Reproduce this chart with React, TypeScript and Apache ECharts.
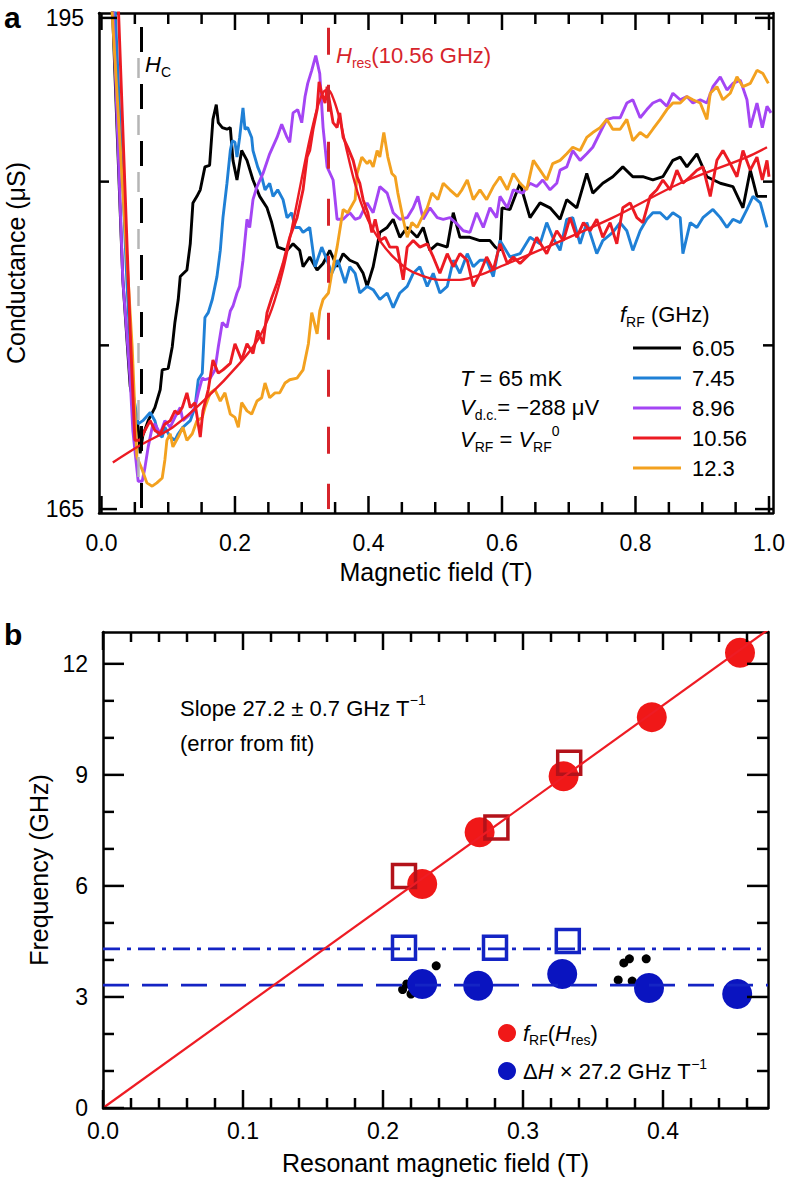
import React, { useEffect, useRef } from "react";
import * as echarts from "echarts";

const FONT = '"Liberation Sans", Arial, Helvetica, sans-serif';

// ---------------- Panel a data ----------------
const freqLabels = ["6.05", "7.45", "8.96", "10.56", "12.3"];
const freqColors = ["#000000", "#1f80d6", "#a445f4", "#ec1b23", "#f3a11f"];

const g605 = [
  [0.016, 196.0], [0.032, 179.0], [0.043, 172.5], [0.055, 170.0], [0.058, 168.4], [0.062, 169.5], [0.07, 170.4], [0.08, 171.2], [0.088, 172.3], [0.091, 173.5],
  [0.1, 173.6], [0.106, 174.9], [0.11, 176.4], [0.115, 177.8], [0.118, 179.2], [0.128, 179.6], [0.133, 181.2], [0.137, 183.7], [0.143, 184.1], [0.148, 184.5],
  [0.155, 185.9], [0.162, 186.0], [0.167, 188.8], [0.172, 189.7], [0.175, 188.6], [0.181, 188.3], [0.188, 188.2], [0.193, 188.3], [0.197, 186.3], [0.203, 185.1],
  [0.21, 186.9], [0.218, 186.3], [0.227, 185.1], [0.237, 184.1], [0.248, 183.4], [0.255, 182.5], [0.264, 181.0], [0.278, 180.8], [0.287, 181.2], [0.297, 180.8],
  [0.302, 179.8], [0.312, 180.4], [0.323, 179.6], [0.332, 180.0], [0.342, 180.8], [0.353, 179.8], [0.362, 180.6], [0.372, 180.2], [0.383, 180.0], [0.392, 179.4],
  [0.398, 178.6], [0.407, 179.8], [0.417, 181.9], [0.428, 182.2], [0.437, 182.7], [0.447, 181.6], [0.458, 182.2], [0.473, 181.6], [0.482, 182.2], [0.492, 180.8],
  [0.503, 181.2], [0.518, 181.0], [0.527, 183.1], [0.537, 181.6], [0.552, 181.6], [0.567, 181.4], [0.582, 181.4], [0.59, 181.0], [0.597, 180.8], [0.6, 183.4],
  [0.612, 183.3], [0.627, 184.9], [0.642, 182.8], [0.657, 183.7], [0.672, 183.4], [0.687, 182.7], [0.697, 183.9], [0.712, 183.4], [0.727, 185.5], [0.736, 184.3],
  [0.751, 184.9], [0.766, 185.3], [0.781, 185.9], [0.796, 185.3], [0.811, 185.3], [0.826, 185.1], [0.841, 185.3], [0.856, 186.3], [0.867, 186.5], [0.877, 185.9],
  [0.892, 186.7], [0.907, 185.3], [0.927, 184.9], [0.946, 184.7], [0.961, 183.4], [0.972, 185.7], [0.982, 184.1], [0.997, 184.1],
];

const g745 = [
  [0.02, 196.0], [0.038, 179.0], [0.046, 172.4], [0.055, 170.2], [0.062, 170.4], [0.073, 170.9], [0.08, 170.4], [0.085, 169.6], [0.091, 169.4], [0.095, 170.0],
  [0.103, 169.4], [0.11, 169.2], [0.115, 169.6], [0.122, 170.0], [0.133, 170.4], [0.14, 171.2], [0.145, 172.9], [0.151, 173.3], [0.155, 176.7], [0.16, 177.0],
  [0.166, 177.8], [0.173, 179.2], [0.178, 180.8], [0.182, 182.8], [0.188, 184.9], [0.193, 186.9], [0.196, 187.5], [0.2, 187.4], [0.203, 186.5], [0.207, 187.7],
  [0.212, 189.5], [0.215, 188.2], [0.219, 188.3], [0.225, 187.7], [0.227, 186.9], [0.234, 185.9], [0.24, 185.3], [0.245, 184.5], [0.252, 184.9], [0.257, 184.1],
  [0.264, 184.5], [0.272, 183.9], [0.278, 182.8], [0.285, 183.1], [0.29, 182.2], [0.297, 182.2], [0.302, 181.9], [0.312, 182.2], [0.32, 179.8], [0.33, 181.0],
  [0.338, 180.2], [0.345, 179.4], [0.354, 180.2], [0.365, 178.8], [0.372, 179.8], [0.38, 179.4], [0.387, 178.2], [0.398, 178.6], [0.407, 178.4], [0.417, 177.8],
  [0.428, 178.2], [0.437, 177.3], [0.447, 178.2], [0.458, 178.6], [0.467, 179.4], [0.477, 179.8], [0.488, 178.6], [0.497, 179.4], [0.507, 178.2], [0.518, 178.6],
  [0.527, 180.2], [0.537, 179.4], [0.548, 180.6], [0.557, 179.8], [0.567, 180.2], [0.577, 180.2], [0.587, 179.2], [0.597, 181.4], [0.612, 180.4], [0.627, 180.6],
  [0.642, 181.6], [0.657, 181.2], [0.667, 182.5], [0.676, 181.6], [0.687, 180.8], [0.697, 182.7], [0.706, 182.8], [0.717, 181.2], [0.727, 182.5], [0.742, 180.6],
  [0.751, 181.4], [0.766, 181.9], [0.777, 182.5], [0.787, 182.0], [0.796, 180.8], [0.807, 182.0], [0.817, 182.7], [0.826, 183.1], [0.837, 183.1], [0.847, 182.7],
  [0.856, 183.1], [0.867, 182.8], [0.871, 180.6], [0.882, 182.5], [0.892, 182.2], [0.901, 182.8], [0.916, 183.3], [0.927, 182.8], [0.937, 182.2], [0.946, 182.7],
  [0.957, 182.5], [0.967, 183.3], [0.976, 184.1], [0.987, 183.7], [0.997, 182.2],
];

const g896 = [
  [0.017, 196.0], [0.032, 179.0], [0.038, 175.7], [0.043, 172.9], [0.047, 169.8], [0.055, 166.7], [0.061, 166.7], [0.065, 167.5], [0.07, 168.8], [0.076, 170.0],
  [0.08, 170.2], [0.088, 169.6], [0.095, 170.4], [0.103, 170.0], [0.11, 170.6], [0.118, 171.2], [0.122, 170.4], [0.133, 170.8], [0.14, 171.2], [0.145, 172.1],
  [0.151, 173.0], [0.155, 172.9], [0.163, 173.0], [0.17, 173.5], [0.175, 174.9], [0.181, 176.4], [0.188, 176.1], [0.193, 177.1], [0.197, 177.4], [0.203, 178.2],
  [0.207, 178.6], [0.212, 180.2], [0.218, 182.7], [0.222, 182.2], [0.227, 183.9], [0.233, 184.7], [0.242, 185.5], [0.252, 186.7], [0.263, 187.7], [0.27, 188.5],
  [0.278, 187.7], [0.282, 187.4], [0.287, 189.2], [0.294, 189.4], [0.3, 188.6], [0.305, 190.2], [0.309, 191.0], [0.315, 191.8], [0.321, 192.7], [0.327, 191.6],
  [0.332, 188.3], [0.338, 185.9], [0.347, 185.1], [0.353, 182.7], [0.362, 182.7], [0.372, 183.1], [0.38, 182.7], [0.387, 182.8], [0.398, 183.7], [0.407, 183.1],
  [0.417, 184.7], [0.428, 184.3], [0.437, 183.1], [0.447, 182.7], [0.458, 182.8], [0.467, 183.4], [0.474, 184.1], [0.482, 182.7], [0.492, 183.4], [0.503, 182.8],
  [0.512, 182.7], [0.522, 182.8], [0.533, 182.4], [0.542, 182.0], [0.552, 181.9], [0.562, 183.1], [0.572, 182.2], [0.582, 183.4], [0.592, 182.8], [0.597, 184.1],
  [0.608, 183.4], [0.617, 184.5], [0.631, 184.3], [0.642, 184.9], [0.652, 184.7], [0.661, 185.1], [0.672, 184.5], [0.682, 184.9], [0.687, 185.7], [0.697, 185.9],
  [0.706, 186.9], [0.717, 186.3], [0.727, 186.7], [0.736, 187.1], [0.747, 188.0], [0.757, 188.8], [0.766, 188.9], [0.777, 188.9], [0.787, 189.8], [0.796, 190.0],
  [0.807, 188.9], [0.817, 189.4], [0.826, 189.8], [0.837, 190.0], [0.847, 189.6], [0.856, 190.4], [0.867, 190.0], [0.877, 190.2], [0.886, 189.8], [0.897, 190.0],
  [0.907, 189.8], [0.916, 190.8], [0.927, 191.4], [0.937, 190.6], [0.946, 191.0], [0.957, 191.2], [0.967, 190.0], [0.972, 188.3], [0.982, 189.8], [0.99, 188.3],
  [0.997, 189.6], [1.003, 189.2],
];

const g1056 = [
  [0.025, 196.0], [0.043, 175.9], [0.05, 169.2], [0.058, 169.2], [0.065, 169.8], [0.073, 170.4], [0.08, 169.8], [0.088, 169.6], [0.095, 170.2], [0.103, 170.4],
  [0.11, 171.0], [0.115, 170.8], [0.121, 171.2], [0.128, 172.1], [0.133, 171.2], [0.14, 171.5], [0.148, 169.4], [0.152, 171.0], [0.16, 172.3], [0.167, 174.1],
  [0.175, 173.3], [0.182, 173.5], [0.193, 173.9], [0.2, 175.1], [0.21, 174.1], [0.218, 175.1], [0.227, 174.5], [0.234, 175.9], [0.242, 175.1], [0.248, 177.0],
  [0.255, 177.9], [0.263, 178.8], [0.272, 180.0], [0.282, 181.6], [0.293, 182.8], [0.302, 184.5], [0.308, 186.5], [0.312, 186.9], [0.317, 188.2], [0.323, 189.4],
  [0.326, 191.1], [0.33, 190.4], [0.335, 189.8], [0.338, 190.8], [0.342, 189.8], [0.347, 188.6], [0.353, 188.3], [0.357, 189.2], [0.362, 187.7], [0.369, 187.1],
  [0.377, 186.3], [0.383, 185.3], [0.387, 184.9], [0.392, 183.9], [0.399, 183.1], [0.405, 181.9], [0.41, 182.7], [0.417, 181.4], [0.425, 181.6], [0.432, 181.0],
  [0.443, 181.0], [0.452, 179.0], [0.458, 181.0], [0.467, 181.4], [0.477, 181.0], [0.488, 181.2], [0.497, 180.4], [0.507, 179.4], [0.518, 180.6], [0.527, 179.8],
  [0.537, 180.6], [0.548, 180.2], [0.557, 178.6], [0.567, 179.4], [0.577, 180.4], [0.587, 179.6], [0.597, 181.2], [0.608, 180.0], [0.617, 180.4], [0.627, 180.0],
  [0.642, 180.6], [0.652, 181.6], [0.667, 180.6], [0.682, 182.0], [0.692, 181.4], [0.702, 182.8], [0.712, 181.6], [0.722, 182.5], [0.732, 182.0], [0.742, 182.7],
  [0.751, 181.6], [0.762, 182.5], [0.772, 181.2], [0.781, 183.4], [0.792, 183.7], [0.802, 182.8], [0.811, 182.5], [0.822, 184.1], [0.832, 184.5], [0.841, 185.1],
  [0.852, 184.5], [0.862, 185.7], [0.871, 184.9], [0.882, 185.3], [0.892, 185.7], [0.901, 185.9], [0.912, 184.1], [0.922, 186.3], [0.931, 186.9], [0.942, 186.1],
  [0.952, 185.3], [0.961, 186.9], [0.972, 185.7], [0.982, 186.5], [0.99, 185.1], [0.997, 186.3], [1.0, 185.3],
];

const g123 = [
  [0.015, 196.0], [0.04, 179.0], [0.046, 174.9], [0.053, 168.2], [0.061, 167.4], [0.068, 166.6], [0.076, 166.4], [0.083, 166.6], [0.091, 166.9], [0.095, 168.0],
  [0.098, 169.2], [0.103, 169.6], [0.107, 168.8], [0.115, 169.4], [0.122, 170.0], [0.128, 169.2], [0.136, 169.6], [0.143, 170.4], [0.151, 170.6], [0.155, 171.2],
  [0.163, 172.1], [0.17, 172.3], [0.178, 171.6], [0.185, 172.1], [0.193, 170.8], [0.2, 170.6], [0.205, 170.0], [0.21, 171.5], [0.218, 171.0], [0.225, 170.8],
  [0.233, 171.6], [0.24, 171.8], [0.245, 172.7], [0.252, 171.8], [0.26, 172.1], [0.267, 172.1], [0.275, 172.7], [0.282, 172.9], [0.293, 173.0], [0.302, 173.5],
  [0.31, 175.1], [0.315, 177.0], [0.323, 175.7], [0.327, 177.1], [0.332, 177.8], [0.34, 178.2], [0.345, 179.4], [0.353, 181.0], [0.362, 183.3], [0.369, 183.1],
  [0.38, 183.9], [0.383, 185.5], [0.39, 186.5], [0.398, 186.1], [0.402, 186.3], [0.407, 185.9], [0.413, 186.9], [0.417, 186.5], [0.423, 188.0], [0.429, 186.5],
  [0.435, 185.5], [0.44, 185.3], [0.444, 184.3], [0.452, 182.7], [0.458, 181.6], [0.465, 182.5], [0.473, 182.2], [0.48, 182.8], [0.488, 183.4], [0.495, 184.3],
  [0.504, 183.9], [0.512, 184.9], [0.522, 184.5], [0.533, 184.1], [0.54, 184.5], [0.548, 185.1], [0.557, 183.9], [0.567, 184.5], [0.577, 183.9], [0.587, 184.7],
  [0.597, 185.3], [0.608, 184.5], [0.617, 185.5], [0.627, 184.9], [0.637, 184.5], [0.647, 186.3], [0.657, 185.7], [0.667, 185.1], [0.676, 186.1], [0.687, 186.3],
  [0.697, 186.7], [0.706, 187.1], [0.717, 186.9], [0.727, 187.7], [0.736, 188.0], [0.747, 188.3], [0.757, 188.8], [0.766, 188.2], [0.777, 188.2], [0.787, 188.8],
  [0.796, 187.5], [0.807, 188.0], [0.817, 187.7], [0.826, 188.2], [0.837, 188.8], [0.847, 189.4], [0.856, 189.8], [0.867, 189.8], [0.877, 190.2], [0.886, 190.0],
  [0.897, 189.8], [0.907, 188.8], [0.912, 190.4], [0.922, 190.8], [0.931, 190.0], [0.942, 190.4], [0.952, 191.4], [0.961, 190.8], [0.972, 191.0], [0.982, 191.8],
  [0.991, 191.6], [0.999, 191.0],
];

const fit1056 = [
  [0.017, 167.85], [0.058, 168.9], [0.107, 170.0], [0.158, 171.8], [0.207, 173.9], [0.235, 175.4], [0.255, 177.2], [0.272, 179.6], [0.287, 182.5], [0.3, 185.2],
  [0.312, 187.6], [0.324, 189.6], [0.333, 190.5], [0.34, 190.6], [0.348, 190.0], [0.357, 188.8], [0.367, 187.0], [0.377, 185.3], [0.388, 183.8], [0.4, 182.6],
  [0.417, 181.4], [0.437, 180.4], [0.457, 179.7], [0.477, 179.3], [0.507, 179.0], [0.537, 179.0], [0.567, 179.3], [0.597, 179.8], [0.667, 181.0], [0.766, 182.8],
  [0.867, 184.9], [0.967, 186.5], [0.997, 187.1],
];

const hcField = 0.059;
const hresField = 0.339;

const aXMajor = [0, 0.2, 0.4, 0.6, 0.8, 1.0];
const aXMinor = [0.05, 0.1, 0.15, 0.25, 0.3, 0.35, 0.45, 0.5, 0.55, 0.65, 0.7, 0.75, 0.85, 0.9, 0.95];
const aYMajor = [165, 195];
const aYMinor = [175, 185];

// ---------------- Panel b data ----------------
const resField = [0.228, 0.269, 0.329, 0.392, 0.455];
const resFreq = [6.05, 7.45, 8.96, 10.56, 12.3];
const widthField = [0.228, 0.268, 0.328, 0.39, 0.453];
const widthFreq = [3.35, 3.3, 3.62, 3.24, 3.08];
const sqRedField = [0.215, 0.281, 0.333];
const sqRedFreq = [6.27, 7.58, 9.33];
const sqBlueField = [0.215, 0.28, 0.332];
const sqBlueFreq = [4.33, 4.33, 4.51];
const dotField = [0.214, 0.217, 0.221, 0.22, 0.238, 0.368, 0.372, 0.376, 0.378, 0.388];
const dotFreq = [3.2, 3.35, 3.45, 3.08, 3.84, 3.46, 3.92, 4.03, 3.43, 4.03];
const fitB = [[0, 0], [0.475, 12.92]];
const widthMeanDashed = 3.32;
const widthMeanDashDot = 4.3;

const bXMajor = [0, 0.1, 0.2, 0.3, 0.4];
const bXMinor = [0.02, 0.04, 0.06, 0.08, 0.12, 0.14, 0.16, 0.18, 0.22, 0.24, 0.26, 0.28, 0.32, 0.34, 0.36, 0.38, 0.42, 0.44, 0.46];
const bYMajor = [0, 3, 6, 9, 12];
const bYMinor = [1, 2, 4, 5, 7, 8, 10, 11];

const zip = (xs: number[], ys: number[]) => xs.map((x, i) => [x, ys[i]]);

// ---------------- helpers ----------------
function richSet(size: number, color: string, lh: number) {
  const small = Math.round(size * 0.64);
  const base = { fontFamily: FONT, fontSize: size, color, fill: color, lineHeight: lh, verticalAlign: "middle" };
  return {
    n: { ...base },
    i: { ...base, fontStyle: "italic" },
    sub: { fontFamily: FONT, fontSize: small, color, fill: color, lineHeight: small + 1, verticalAlign: "bottom" },
    sup: { fontFamily: FONT, fontSize: small, color, fill: color, lineHeight: small + 1, verticalAlign: "top" },
  };
}

function gText(x: number, cy: number, text: string, size: number, color = "#000", lh = 30, extra: any = {}) {
  return {
    type: "text",
    x,
    y: cy,
    silent: true,
    style: {
      text,
      fontFamily: FONT,
      fontSize: size,
      fill: color,
      lineHeight: lh,
      align: "left",
      verticalAlign: "middle",
      rich: richSet(size, color, lh),
      ...extra,
    },
  };
}

function axis(gridIndex: number, position: string, min: number, max: number, ticks: number[], label?: any, nameOpt?: any) {
  return {
    type: "value",
    gridIndex,
    position,
    min,
    max,
    axisLine: { show: true, onZero: false, lineStyle: { color: "#000", width: 2.5 } },
    axisTick: { show: false },
    axisLabel: label
      ? { show: true, customValues: ticks, color: "#000", fontFamily: FONT, fontSize: 23, ...label }
      : { show: false },
    splitLine: { show: false },
    minorTick: { show: false },
    ...(nameOpt || {}),
  };
}

const A = { xMin: -0.0037, xMax: 1.006, yMin: 164.76, yMax: 195.3 };
const B = { xMin: 0, xMax: 0.475, yMin: 0, yMax: 12.86 };

const nameStyle = { color: "#000", fontFamily: FONT, fontSize: 25 };

const xAxes = [
  axis(0, "bottom", A.xMin, A.xMax, aXMajor, { margin: 18, formatter: (v: number) => v.toFixed(1) }, {
    name: "Magnetic field (T)", nameLocation: "middle", nameGap: 46, nameTextStyle: nameStyle,
  }),
  axis(0, "top", A.xMin, A.xMax, aXMajor),
  axis(1, "bottom", B.xMin, B.xMax, bXMajor, { margin: 11, formatter: (v: number) => v.toFixed(1) }, {
    name: "Resonant magnetic field (T)", nameLocation: "middle", nameGap: 42, nameTextStyle: nameStyle,
  }),
  axis(1, "top", B.xMin, B.xMax, bXMajor),
];

const yAxes = [
  axis(0, "left", A.yMin, A.yMax, aYMajor, { margin: 15, formatter: (v: number) => String(v) }, {
    name: "Conductance (\u03bcS)", nameLocation: "middle", nameGap: 71, nameRotate: 90, nameTextStyle: nameStyle,
  }),
  axis(0, "right", A.yMin, A.yMax, aYMajor),
  axis(1, "left", B.yMin, B.yMax, bYMajor, { margin: 15, formatter: (v: number) => String(v) }, {
    name: "Frequency (GHz)", nameLocation: "middle", nameGap: 50, nameRotate: 90, nameTextStyle: nameStyle,
  }),
  axis(1, "right", B.yMin, B.yMax, bYMajor),
];

// tick marks on all four sides, placed through the axes' own scales
function tickSeries(gridIdx: number, dir: "x" | "y", values: number[], len: number, ext: any) {
  const ai = gridIdx === 0 ? 0 : 2;
  return {
    type: "custom",
    name: "ticks",
    xAxisIndex: ai,
    yAxisIndex: ai,
    silent: true,
    clip: false,
    z: 6,
    data: dir === "x" ? values.map((v) => [v, ext.yMin]) : values.map((v) => [ext.xMin, v]),
    renderItem: (params: any, api: any) => {
      const cs = params.coordSys;
      const p = api.coord([api.value(0), api.value(1)]);
      const st = { stroke: "#000", lineWidth: 2.5 };
      if (dir === "x") {
        const b = cs.y + cs.height;
        return {
          type: "group",
          children: [
            { type: "line", shape: { x1: p[0], y1: b, x2: p[0], y2: b - len }, style: st },
            { type: "line", shape: { x1: p[0], y1: cs.y, x2: p[0], y2: cs.y + len }, style: st },
          ],
        };
      }
      const r = cs.x + cs.width;
      return {
        type: "group",
        children: [
          { type: "line", shape: { x1: cs.x, y1: p[1], x2: cs.x + len, y2: p[1] }, style: st },
          { type: "line", shape: { x1: r, y1: p[1], x2: r - len, y2: p[1] }, style: st },
        ],
      };
    },
  };
}

function curve(name: string, data: number[][], color: string) {
  return {
    type: "line",
    name,
    xAxisIndex: 0,
    yAxisIndex: 0,
    data,
    symbol: "none",
    showSymbol: false,
    clip: true,
    lineStyle: { color, width: 2.9 },
    itemStyle: { color },
    emphasis: { disabled: true },
  };
}

const RED_B = "#f01818";
const DARKRED_B = "#b3121a";
const BLUE_B = "#0a14c0";
const BLUE_LINE = "#1424c4";

const series: any[] = [
  curve(freqLabels[0], g605, freqColors[0]),
  curve(freqLabels[1], g745, freqColors[1]),
  curve(freqLabels[2], g896, freqColors[2]),
  curve(freqLabels[4], g123, freqColors[4]),
  curve(freqLabels[3], g1056, freqColors[3]),
  {
    ...curve("fit", fit1056, freqColors[3]),
    smooth: 0.3,
    lineStyle: { color: freqColors[3], width: 2.4 },
    markLine: {
      silent: true,
      symbol: ["none", "none"],
      label: { show: false },
      emphasis: { disabled: true },
      data: [
        [
          { coord: [hcField - 0.0035, 194.45], lineStyle: { color: "#b5b5b5", width: 2.5, type: [20, 37], dashOffset: -31 } },
          { coord: [hcField - 0.0035, 165] },
        ],
        [
          { coord: [hcField, 194.45], lineStyle: { color: "#000", width: 3, type: [25, 32] } },
          { coord: [hcField, 165] },
        ],
        [
          { coord: [hresField, 194.4], lineStyle: { color: "#d6242b", width: 3, type: [27, 30] } },
          { coord: [hresField, 165] },
        ],
      ],
    },
  },
  tickSeries(0, "x", aXMajor, 17, A),
  tickSeries(0, "x", aXMinor, 11, A),
  tickSeries(0, "y", aYMajor, 18, A),
  tickSeries(0, "y", aYMinor, 10, A),
  // panel b
  {
    type: "line", name: "meanDashed", xAxisIndex: 2, yAxisIndex: 2, symbol: "none",
    data: [[B.xMin, widthMeanDashed], [B.xMax, widthMeanDashed]],
    lineStyle: { color: BLUE_LINE, width: 2.6, type: [26, 13] }, emphasis: { disabled: true },
  },
  {
    type: "line", name: "meanDashDot", xAxisIndex: 2, yAxisIndex: 2, symbol: "none",
    data: [[B.xMin, widthMeanDashDot], [B.xMax, widthMeanDashDot]],
    lineStyle: { color: BLUE_LINE, width: 2.6, type: [17, 7, 4, 7] }, emphasis: { disabled: true },
  },
  {
    type: "line", name: "fitB", xAxisIndex: 2, yAxisIndex: 2, symbol: "none", clip: true,
    data: fitB, lineStyle: { color: "#ee1c24", width: 2.2 }, emphasis: { disabled: true },
  },
  {
    type: "scatter", name: "dots", xAxisIndex: 2, yAxisIndex: 2, symbolSize: 9,
    data: zip(dotField, dotFreq), itemStyle: { color: "#000", opacity: 1 }, emphasis: { disabled: true },
  },
  {
    type: "scatter", name: "dH", xAxisIndex: 2, yAxisIndex: 2, symbolSize: 30,
    data: zip(widthField, widthFreq), itemStyle: { color: BLUE_B, opacity: 1 }, emphasis: { disabled: true },
  },
  {
    type: "scatter", name: "fRF", xAxisIndex: 2, yAxisIndex: 2, symbolSize: 30,
    data: zip(resField, resFreq), itemStyle: { color: RED_B, opacity: 1 }, emphasis: { disabled: true },
  },
  {
    type: "scatter", name: "sqRed", xAxisIndex: 2, yAxisIndex: 2, symbol: "rect", symbolSize: 23,
    data: zip(sqRedField, sqRedFreq),
    itemStyle: { color: "rgba(0,0,0,0)", borderColor: DARKRED_B, borderWidth: 3.5, opacity: 1 }, emphasis: { disabled: true },
  },
  {
    type: "scatter", name: "sqBlue", xAxisIndex: 2, yAxisIndex: 2, symbol: "rect", symbolSize: 23,
    data: zip(sqBlueField, sqBlueFreq),
    itemStyle: { color: "rgba(0,0,0,0)", borderColor: BLUE_LINE, borderWidth: 3.5, opacity: 1 }, emphasis: { disabled: true },
  },
  tickSeries(1, "x", bXMajor, 18, B),
  tickSeries(1, "x", bXMinor, 10, B),
  tickSeries(1, "y", bYMajor, 21, B),
  tickSeries(1, "y", bYMinor, 11, B),
];

const legendRichB = richSet(22, "#000", 28);

const option: any = {
  animation: false,
  backgroundColor: "#ffffff",
  textStyle: { fontFamily: FONT },
  grid: [
    { left: 99, top: 13, width: 674, height: 500, containLabel: false, outerBoundsMode: "none" },
    { left: 103, top: 632, width: 665, height: 476, containLabel: false, outerBoundsMode: "none" },
  ],
  xAxis: xAxes,
  yAxis: yAxes,
  legend: [
    {
      data: freqLabels,
      orient: "vertical",
      left: 628,
      top: 332,
      icon: "rect",
      itemWidth: 48,
      itemHeight: 3,
      itemGap: 8,
      selectedMode: false,
      textStyle: { fontFamily: FONT, fontSize: 22, color: "#000", lineHeight: 22, padding: [0, 0, 0, 6] },
    },
    {
      data: ["fRF", "dH"],
      orient: "vertical",
      left: 493,
      top: 1014,
      icon: "circle",
      itemWidth: 18,
      itemHeight: 18,
      itemGap: 10,
      selectedMode: false,
      itemStyle: { opacity: 1 },
      formatter: (name: string) =>
        name === "fRF" ? "{i|f}{sub|RF}({i|H}{sub|res})" : "\u0394{i|H} \u00d7 27.2 GHz T{sup|\u22121}",
      textStyle: { fontFamily: FONT, fontSize: 22, color: "#000", lineHeight: 28, padding: [0, 0, 0, 2], rich: legendRichB },
    },
  ],
  graphic: [
    gText(4, 17.5, "a", 30, "#000", 32, { fontWeight: "bold" }),
    gText(4, 634.5, "b", 30, "#000", 32, { fontWeight: "bold" }),
    gText(145, 64.6, "{i|H}{sub|C}", 22, "#000", 28),
    gText(336, 55.6, "{i|H}{sub|res}(10.56 GHz)", 22, "#d6242b", 28),
    gText(620, 314, "{i|f}{sub|RF} (GHz)", 22, "#000", 30),
    gText(460, 378.3, "{i|T} = 65 mK", 22, "#000", 30),
    gText(460, 407.3, "{i|V}{sub|d.c.}= \u2212288 \u03bcV", 22, "#000", 30),
    gText(460, 439.3, "{i|V}{sub|RF} = {i|V}{sub|RF}{sup|0}", 22, "#000", 30),
    gText(180, 708, "Slope 27.2 \u00b1 0.7 GHz T{sup|\u22121}", 22, "#000", 30),
    gText(180, 743, "(error from fit)", 22, "#000", 30),
  ],
  series,
};

export default function App() {
  const ref = useRef<HTMLDivElement>(null);
  useEffect(() => {
    if (!ref.current) return;
    const chart = echarts.init(ref.current, null, { renderer: "svg" });
    chart.setOption(option);
    return () => chart.dispose();
  }, []);
  return (
    <div
      ref={ref}
      style={{ position: "absolute", left: 0, top: 0, width: 788, height: 1187, background: "#fff" }}
    />
  );
}
